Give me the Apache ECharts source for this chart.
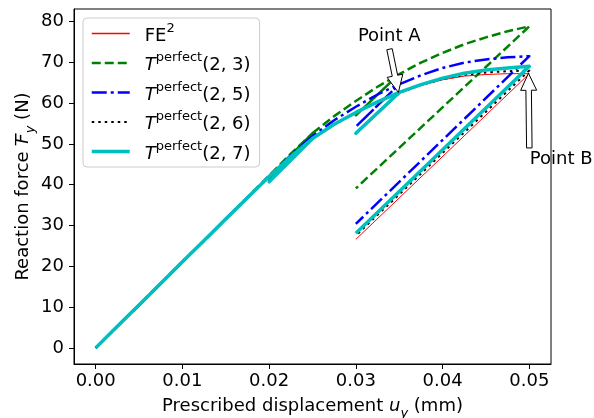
<!DOCTYPE html>
<html>
<head>
<meta charset="utf-8">
<script src="https://cdn.jsdelivr.net/npm/echarts@6/dist/echarts.min.js"></script>
<style>
  html, body { margin: 0; padding: 0; background: #fff; }
  #chart { width: 594px; height: 418px; }
</style>
</head>
<body>
<div id="chart"></div>
<script>
// Prescribed displacement samples (mm) along the loading envelope
const uSteps = [0, 0.0025, 0.005, 0.0075, 0.01, 0.0125, 0.015, 0.0175, 0.02, 0.0225, 0.025,
                0.0275, 0.03, 0.0325, 0.035, 0.0375, 0.04, 0.0425, 0.045, 0.0475, 0.05];

// Reaction force on the loading envelope (N)
const forceFE2 = [0, 5.3, 10.5, 15.8, 21.1, 26.3, 31.6, 36.8, 42.0, 46.8, 51.1,
                  54.6, 57.5, 60.1, 62.4, 64.3, 65.7, 66.6, 67.0, 67.2, 67.2];
const forceT23 = [0, 5.3, 10.5, 15.8, 21.1, 26.3, 31.6, 36.9, 42.2, 47.6, 52.6,
                  56.8, 60.5, 64.0, 67.1, 69.9, 72.3, 74.4, 76.1, 77.6, 78.8];
const forceT25 = [0, 5.3, 10.5, 15.8, 21.1, 26.3, 31.6, 36.8, 42.1, 47.2, 51.9,
                  55.8, 59.1, 62.1, 64.6, 66.8, 68.6, 69.9, 70.7, 71.2, 71.5];
const forceT26 = [0, 5.3, 10.5, 15.8, 21.1, 26.3, 31.6, 36.8, 42.0, 46.9, 51.2,
                  54.7, 57.6, 60.2, 62.5, 64.4, 65.9, 66.9, 67.5, 67.8, 68.0];
const forceT27 = [0, 5.3, 10.5, 15.8, 21.1, 26.3, 31.6, 36.8, 42.0, 46.9, 51.3,
                  54.8, 57.7, 60.3, 62.6, 64.5, 66.1, 67.3, 68.1, 68.6, 69.0];

// Unloading cycles: [from u, back to u]
const cycle1 = [0.025, 0.02];
const cycle2 = [0.035, 0.03];
const cycle3 = [0.05, 0.03];
// Force reached at the end of each unloading (FE2, T23, T25, T26, T27)
const unload1 = [40.6, 41.8, 41.2, 40.7, 40.7];
const unload2 = [52.4, 57.0, 54.2, 52.5, 52.6];
const unload3 = [26.6, 39.1, 30.4, 27.5, 28.1];

const xTicks = [0, 0.01, 0.02, 0.03, 0.04, 0.05];
const yTicks = [0, 10, 20, 30, 40, 50, 60, 70, 80];

const seriesNames = ['FE2', 'T23', 'T25', 'T26', 'T27'];
const envelopes = [forceFE2, forceT23, forceT25, forceT26, forceT27];

// Annotations (data coordinates)
const pointA = { text: 'Point A', label: [0.03385, 76.4], tail: [0.03388, 73.2], tip: [0.0349, 62.6] };
const pointB = { text: 'Point B', label: [0.05005, 46.2], tail: [0.05, 49.0], tip: [0.0499, 67.3] };

function buildPath(env, k) {
  const pts = [];
  const f1 = env[uSteps.indexOf(cycle1[0])];
  const f2 = env[uSteps.indexOf(cycle2[0])];
  for (let i = 0; i < uSteps.length; i++) {
    pts.push([uSteps[i], env[i]]);
    if (uSteps[i] === cycle1[0]) { pts.push([cycle1[1], unload1[k]]); pts.push([cycle1[0], f1]); }
    if (uSteps[i] === cycle2[0]) { pts.push([cycle2[1], unload2[k]]); pts.push([cycle2[0], f2]); }
  }
  pts.push([cycle3[1], unload3[k]]);
  return pts;
}

const FONT = 'DejaVu Sans';
const FS = 18;
const SUP = 13;
const styles = [
  { color: '#ff0000', width: 1, type: 'solid' },
  { color: '#008000', width: 2.5, type: [9, 4] },
  { color: '#0000ff', width: 2.5, type: [15, 4, 3, 4] },
  { color: '#000000', width: 2, type: [2.5, 4] },
  { color: '#00bfbf', width: 3.5, type: 'solid' }
];

const chart = echarts.init(document.getElementById('chart'), null, { renderer: 'canvas' });

const legendRich = {
  g: { width: 10 },
  n: { fontFamily: FONT, fontSize: FS, color: '#000', lineHeight: 23, verticalAlign: 'bottom' },
  it: { fontFamily: FONT, fontStyle: 'italic', fontSize: FS, color: '#000', lineHeight: 23, verticalAlign: 'bottom' },
  sup: { fontFamily: FONT, fontSize: SUP, color: '#000', lineHeight: 12, verticalAlign: 'top' }
};

const nameRich = {
  n: { fontFamily: FONT, fontSize: FS, color: '#000', lineHeight: 23, verticalAlign: 'top' },
  it: { fontFamily: FONT, fontStyle: 'italic', fontSize: FS, color: '#000', lineHeight: 23, verticalAlign: 'top' },
  bar: { fontFamily: FONT, fontStyle: 'italic', fontSize: FS, color: '#000', lineHeight: 23, verticalAlign: 'top',
         width: 1, align: 'left', overflow: 'none', padding: [0, 0, 0, 1] },
  sub: { fontFamily: FONT, fontStyle: 'italic', fontSize: SUP, color: '#000', lineHeight: 11, verticalAlign: 'bottom' }
};

chart.setOption({
  animation: false,
  backgroundColor: '#fff',
  grid: { left: 74, right: 43, top: 9, bottom: 54, show: true, borderColor: '#000', borderWidth: 1,
          outerBoundsMode: 'none' },
  xAxis: {
    type: 'value', min: -0.0025, max: 0.0525,
    splitLine: { show: false },
    axisLine: { show: true, onZero: false, lineStyle: { color: '#000', width: 1 } },
    axisTick: { show: true, length: 5, customValues: xTicks, lineStyle: { color: '#000' } },
    axisLabel: { customValues: xTicks, margin: 8, color: '#000', fontFamily: FONT, fontSize: FS,
                 formatter: v => v.toFixed(2) },
    name: '{n|Prescribed displacement }{it|u}{sub|y}{n| (mm)}',
    nameLocation: 'middle', nameGap: 33, nameMoveOverlap: false,
    nameTextStyle: { rich: nameRich }
  },
  yAxis: {
    type: 'value', min: -3.95, max: 83.05,
    splitLine: { show: false },
    axisLine: { show: true, onZero: false, lineStyle: { color: '#000', width: 1 } },
    axisTick: { show: true, length: 5, customValues: yTicks, lineStyle: { color: '#000' } },
    axisLabel: { customValues: yTicks, margin: 10, color: '#000', fontFamily: FONT, fontSize: FS },
    name: '{n|Reaction force }{bar|\u00AF}{it|F}{sub|y}{n| (N)}',
    nameLocation: 'middle', nameGap: 37, nameRotate: 90, nameMoveOverlap: false,
    nameTextStyle: { rich: nameRich }
  },
  legend: {
    orient: 'vertical', left: 83, top: 18,
    padding: [4, 9, 4, 7],
    itemWidth: 38, itemHeight: 14, itemGap: 6.5,
    backgroundColor: 'rgba(255,255,255,0.8)',
    borderColor: '#cccccc', borderWidth: 1, borderRadius: 4,
    itemStyle: { opacity: 0 },
    data: seriesNames.map((name, k) => ({
      name: name,
      lineStyle: { color: styles[k].color, width: Math.max(styles[k].width, 1.3), type: styles[k].type, cap: 'butt' }
    })),
    formatter: name => {
      if (name === 'FE2') return '{g|}{n|FE}{sup|2}';
      return '{g|}{it|T}{sup|perfect}{n|(2, ' + name.charAt(2) + ')}';
    },
    textStyle: { rich: legendRich }
  },
  series: seriesNames.map((name, k) => ({
    name: name,
    type: 'line',
    symbol: 'none',
    showSymbol: false,
    silent: true,
    z: 2 + k,
    data: buildPath(envelopes[k], k),
    lineStyle: { color: styles[k].color, width: styles[k].width, type: styles[k].type, cap: 'butt', join: 'round' },
    itemStyle: { color: styles[k].color }
  }))
});

// Hollow annotation arrows
function arrowPoints(tail, tip, shaftW, headW, headL) {
  const dx = tip[0] - tail[0], dy = tip[1] - tail[1];
  const len = Math.hypot(dx, dy);
  const ux = dx / len, uy = dy / len;
  const nx = -uy, ny = ux;
  const bx = tip[0] - ux * headL, by = tip[1] - uy * headL;
  return [
    [tail[0] + nx * shaftW / 2, tail[1] + ny * shaftW / 2],
    [bx + nx * shaftW / 2, by + ny * shaftW / 2],
    [bx + nx * headW / 2, by + ny * headW / 2],
    [tip[0], tip[1]],
    [bx - nx * headW / 2, by - ny * headW / 2],
    [bx - nx * shaftW / 2, by - ny * shaftW / 2],
    [tail[0] - nx * shaftW / 2, tail[1] - ny * shaftW / 2]
  ];
}

function annotation(p, align) {
  const toPx = v => chart.convertToPixel({ gridIndex: 0 }, v);
  const lp = toPx(p.label);
  return [
    {
      type: 'polygon', z: 100,
      shape: { points: arrowPoints(toPx(p.tail), toPx(p.tip), 5.5, 16, 17) },
      style: { fill: '#fff', stroke: '#000', lineWidth: 1 }
    },
    {
      type: 'text', z: 101, x: lp[0], y: lp[1],
      style: { text: p.text, fill: '#000', font: FS + 'px "DejaVu Sans"', align: align, verticalAlign: 'middle' }
    }
  ];
}

chart.setOption({ graphic: [].concat(annotation(pointA, 'center'), annotation(pointB, 'left')) });
</script>
</body>
</html>
